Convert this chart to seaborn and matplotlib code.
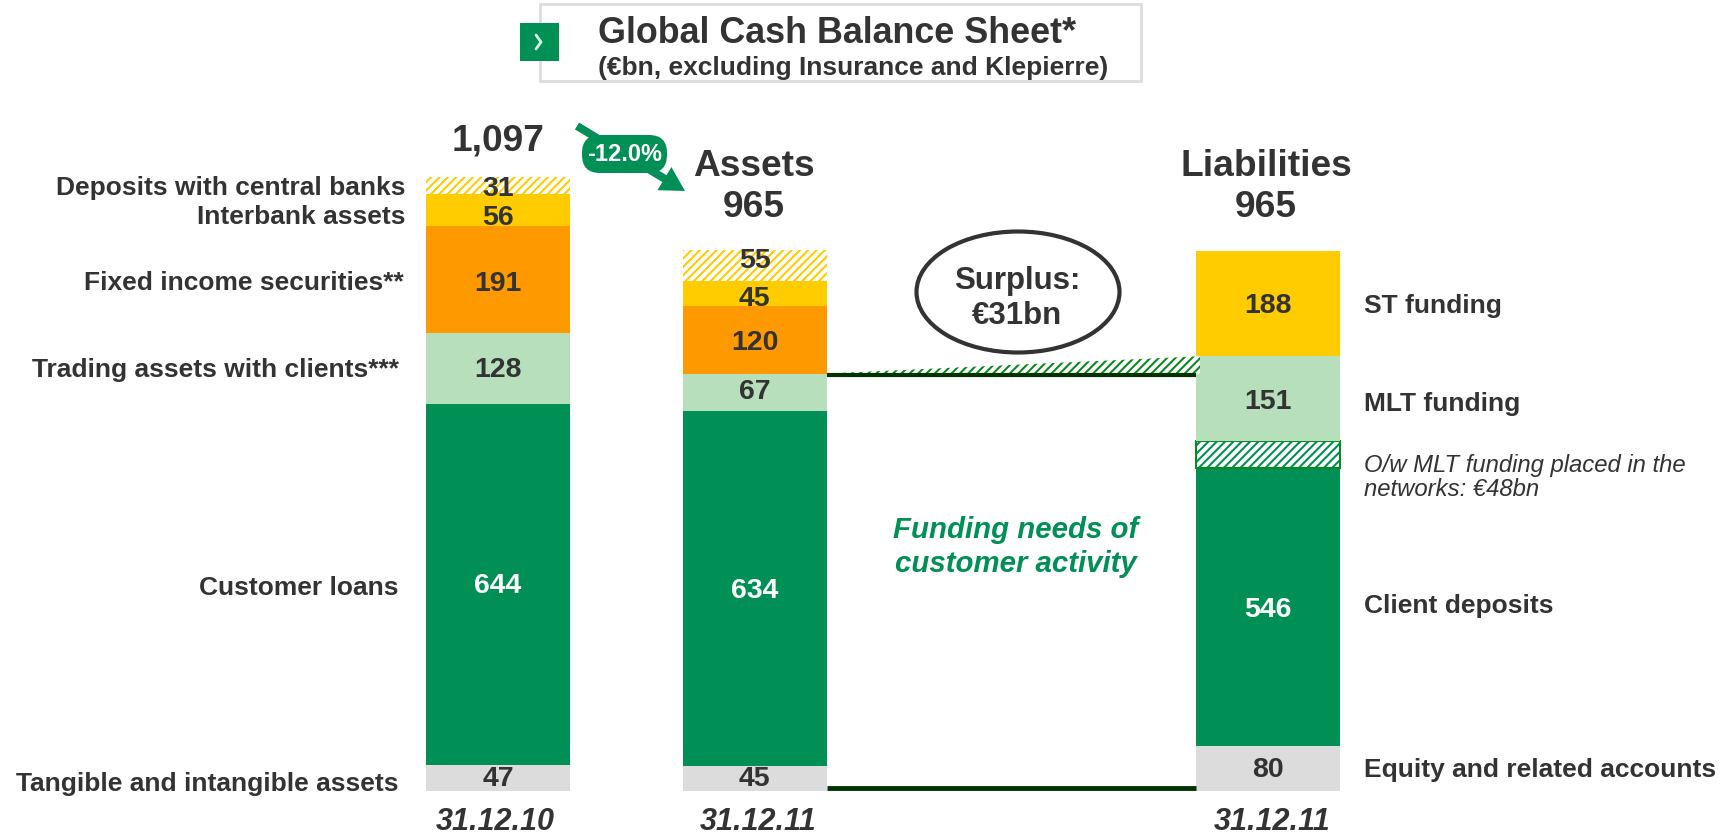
import pandas as pd
import seaborn as sns
import matplotlib.pyplot as plt
from matplotlib.patches import Ellipse, FancyBboxPatch, FancyArrow, Polygon, Rectangle

sns.set_theme(style="white")
plt.rcParams['font.family'] = ['Liberation Sans', 'DejaVu Sans']
plt.rcParams['hatch.linewidth'] = 1.5

W, H = 1733, 837
dark = '#333333'
green = '#008F54'
light_green = '#B7DFBB'
orange = '#FF9900'
yellow = '#FFCC00'
grey = '#DCDCDC'
line_green = '#003300'

# columns, the empty one only keeps the gap between assets and liabilities
columns = ['31.12.10', '31.12.11 assets', '', '31.12.11 liabilities']

segments = ['Tangible', 'Loans', 'Trading', 'Securities', 'Interbank', 'Deposits']
assets_2010 = [47, 644, 128, 191, 56, 31]
assets_2011 = [45, 634, 67, 120, 45, 55]
assets_colors = [grey, green, light_green, orange, yellow, yellow]

liab_segments = ['Equity', 'Client deposits', 'MLT networks', 'MLT', 'ST']
liabilities = [80, 546, 0, 151, 188]
mlt_networks = 48
liab_colors = [grey, green, light_green, light_green, yellow]

left_labels = ['Deposits with central banks', 'Interbank assets', 'Fixed income securities**',
               'Trading assets with clients***', 'Customer loans', 'Tangible and intangible assets']
right_labels = ['ST funding', 'MLT funding', 'Client deposits', 'Equity and related accounts']
dates = ['31.12.10', '31.12.11', '31.12.11']

fig = plt.figure(figsize=(W / 100, H / 100), dpi=100)
ax = fig.add_axes([0, 0, 1, 1])


def px(x, y):
    return x / W, 1 - y / H


def label(x, y, s, **kw):
    kw.setdefault('color', dark)
    kw.setdefault('fontweight', 'bold')
    kw.setdefault('va', 'center')
    # va center sits a bit high for this font
    fig.text(*px(x, y + 2.5), s, **kw)


def stack(col, values, colors, hatched=()):
    bottom = 0
    for i, (v, c) in enumerate(zip(values, colors)):
        n = len(ax.patches)
        d = pd.DataFrame({'col': [col], 'v': [v]})
        sns.barplot(data=d, x='col', y='v', order=columns, color=c, saturation=1,
                    width=0.56, bottom=bottom, ax=ax, linewidth=0)
        if i in hatched:
            for p in ax.patches[n:]:
                p.set_facecolor('white')
                p.set_edgecolor(c)
                p.set_hatch('////')
        bottom += v


stack(columns[0], assets_2010, assets_colors, hatched=(5,))
stack(columns[1], assets_2011, assets_colors, hatched=(5,))
stack(columns[3], [liabilities[0], liabilities[1] - mlt_networks], liab_colors[:2])
# hatched part of the deposits = MLT funding placed in the networks
n = len(ax.patches)
sns.barplot(data=pd.DataFrame({'col': [columns[3]], 'v': [mlt_networks]}), x='col', y='v', order=columns,
            color=green, saturation=1, width=0.56, bottom=liabilities[0] + liabilities[1] - mlt_networks,
            ax=ax, linewidth=0)
for p in ax.patches[n:]:
    p.set_facecolor('white')
    p.set_edgecolor(green)
    p.set_hatch('////')
    ax.add_patch(Rectangle(p.get_xy(), p.get_width(), p.get_height(), fill=False, edgecolor='#0A8A1E', lw=1.5))
stack_top = liabilities[0] + liabilities[1]
for v, c in zip(liabilities[3:], liab_colors[3:]):
    sns.barplot(data=pd.DataFrame({'col': [columns[3]], 'v': [v]}), x='col', y='v', order=columns,
                color=c, saturation=1, width=0.56, bottom=stack_top, ax=ax, linewidth=0)
    stack_top += v

# pixel mapping: col 0 centred on x=498, step 256.7 px; y=0 on 792, 0.5596 px per unit
ax.set_xlim((0 - 498) / 256.67, (W - 498) / 256.67)
ax.set_ylim((792 - H) / 0.5596, 792 / 0.5596)
ax.axis('off')


def values_text(pos, values, nudges):
    # nudges: label shift in value units, the labels are not all centred in the original
    bottom = 0
    for (v, lab), nudge in zip(values, nudges):
        if lab is not None:
            ax.text(pos, bottom + v / 2 + nudge, str(lab), ha='center', va='center', fontsize=20.5,
                    fontweight='bold', color='white' if lab in (644, 634, 546) else dark)
        bottom += v


values_text(0, [(v, v) for v in assets_2010], [0, 0, 0, -6, -12, -4])
values_text(1, [(v, v) for v in assets_2011], [0, -2, 2, -4, -8, 10])
values_text(3, [(liabilities[0], liabilities[0]), (liabilities[1] - mlt_networks, liabilities[1]),
                (mlt_networks, None), (liabilities[3], liabilities[3]), (liabilities[4], liabilities[4])],
            [0, -4, 0, -4, -2])

# connectors between assets and liabilities
x0, x1 = 1 + 0.28, 3 - 0.28
assets_line = sum(assets_2011[:3])
liab_line = liabilities[0] + liabilities[1] + liabilities[3]
ax.add_patch(Polygon([(x0, assets_line), (x1 + 0.015, liab_line), (x1 + 0.015, assets_line)],
                     facecolor='white', edgecolor='#0A8A1E', hatch='////', lw=0))
ax.plot([x0, x1], [assets_line - 3, assets_line - 3], color=line_green, lw=3, solid_capstyle='butt')
ax.plot([x0, x1], [5, 5], color=line_green, lw=3.5, solid_capstyle='butt')

# overlay in figure pixels
over = fig.add_axes([0, 0, 1, 1], facecolor='none')
over.set_xlim(0, W)
over.set_ylim(H, 0)
over.axis('off')

over.add_patch(Rectangle((540, 5), 601, 77, fill=False, edgecolor='#DDDDDD', lw=2))
over.add_patch(Rectangle((520, 24), 39, 38, facecolor=green, edgecolor='none'))
over.plot([536, 541, 536], [36, 43, 50], color='#D8F0E0', lw=2)
label(598, 31, 'Global Cash Balance Sheet*', fontsize=25.8)
label(598, 65, '(€bn, excluding Insurance and Klepierre)', fontsize=19)

over.add_patch(FancyArrow(577, 127, 108, 65, width=8, head_width=27, head_length=24,
                          length_includes_head=True, color=green, lw=0))
over.add_patch(FancyBboxPatch((582, 136), 85, 38, boxstyle='round,pad=0,rounding_size=18',
                              facecolor=green, edgecolor='none'))
label(624.5, 152.5, '-12.0%', fontsize=17, color='white', ha='center')

label(498, 139, '1,097', fontsize=26.7, ha='center')
label(754, 164, 'Assets', fontsize=26.7, ha='center')
label(754, 205, '965', fontsize=26.7, ha='center')
label(1266, 164, 'Liabilities', fontsize=26.7, ha='center')
label(1266, 205, '965', fontsize=26.7, ha='center')

for s, x, y in zip(left_labels, [406, 406, 404, 399, 399, 399], [186, 214, 281, 368, 586, 782]):
    label(x, y, s, fontsize=19, ha='right')
for s, y in zip(right_labels, [303, 402, 604, 768]):
    label(1364, y, s, fontsize=19)
label(1364, 463, 'O/w MLT funding placed in the', fontsize=17.2, fontstyle='italic', fontweight='normal')
label(1364, 487, 'networks: €48bn', fontsize=17.2, fontstyle='italic', fontweight='normal')

for s, x in zip(dates, [495, 758, 1272]):
    fig.text(*px(x, 830), s, fontsize=22, fontstyle='italic', fontweight='bold', ha='center', va='baseline', color=dark)

over.add_patch(Ellipse((1018, 293), 203, 121, fill=False, edgecolor=dark, lw=3))
label(1017, 278, 'Surplus:', fontsize=22.5, ha='center')
label(1017, 314, '€31bn', fontsize=22.5, ha='center')
label(1016, 527, 'Funding needs of', fontsize=21.2, fontstyle='italic', ha='center', color=green)
label(1016, 562, 'customer activity', fontsize=21.2, fontstyle='italic', ha='center', color=green)

fig.savefig('out.png', dpi=100)
